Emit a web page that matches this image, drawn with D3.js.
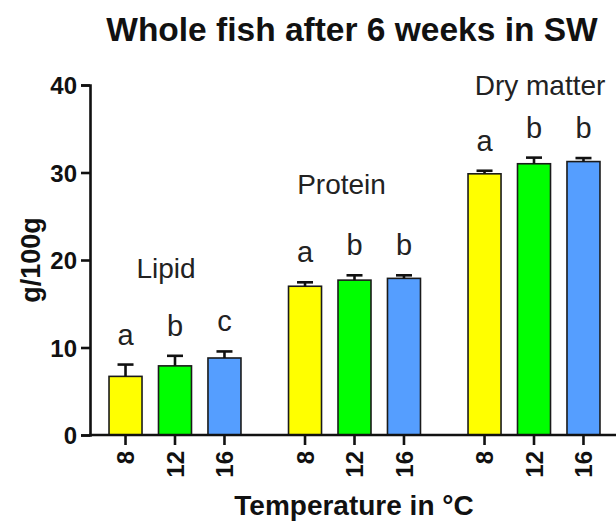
<!DOCTYPE html>
<meta charset="utf-8">
<style>
    body { margin: 0; background: #fff; }
    text { font-family: "Liberation Sans", Arial, sans-serif; fill: #111; }
    .bold { font-weight: bold; }
</style>

<svg width="616" height="523"></svg>

<script src="https://d3js.org/d3.v7.min.js"></script>

<script>
    // data
    var groups = ["Lipid", "Protein", "Dry matter"];
    var temps = ["8", "12", "16"];
    var colors = ["#ffff00", "#00ff00", "#559eff"];
    var lipid = [6.7, 7.9, 8.8];
    var lipidErr = [1.35, 1.15, 0.75];
    var protein = [17.0, 17.7, 17.9];
    var proteinErr = [0.45, 0.55, 0.35];
    var dryMatter = [29.85, 31.0, 31.25];
    var dryMatterErr = [0.35, 0.7, 0.4];
    var letters = [["a", "b", "c"], ["a", "b", "b"], ["a", "b", "b"]];
    var yTicks = [0, 10, 20, 30, 40];

    var svg = d3.select("svg");

    var means = [lipid, protein, dryMatter],
        errs = [lipidErr, proteinErr, dryMatterErr];

    var rows = [];
    groups.forEach(function (g, gi) {
        temps.forEach(function (t, ti) {
            rows.push({group: g, temp: t, ti: ti, value: means[gi][ti], err: errs[gi][ti], letter: letters[gi][ti]});
        });
    });

    var y = d3.scaleLinear().domain([0, 40]).range([435, 85]);

    var x0 = d3.scaleBand().domain(groups).range([90, 619])
            .paddingInner(0.173).paddingOuter(0.06);
    var x1 = d3.scaleBand().domain(temps).range([0, x0.bandwidth()])
            .paddingInner(0.333).paddingOuter(0.1667);

    function cx(d) { return x0(d.group) + x1(d.temp) + x1.bandwidth() / 2; }

    // title
    svg.append("text")
            .attr("class", "bold")
            .attr("x", 352).attr("y", 41)
            .attr("text-anchor", "middle")
            .style("font-size", "33.5px")
            .text("Whole fish after 6 weeks in SW");

    // bars
    svg.append("g").selectAll("rect")
            .data(rows)
            .enter().append("rect")
            .attr("x", function (d) { return x0(d.group) + x1(d.temp); })
            .attr("y", function (d) { return y(d.value); })
            .attr("width", x1.bandwidth())
            .attr("height", function (d) { return y(0) - y(d.value); })
            .attr("fill", function (d) { return colors[d.ti]; })
            .attr("stroke", "#1a1a1a")
            .attr("stroke-width", 1.6);

    // error bars (upper only)
    var eb = svg.append("g").attr("stroke", "#111").attr("stroke-width", 2.6);
    eb.selectAll("line.v")
            .data(rows)
            .enter().append("line")
            .attr("class", "v")
            .attr("x1", cx).attr("x2", cx)
            .attr("y1", function (d) { return y(d.value); })
            .attr("y2", function (d) { return y(d.value + d.err); });
    eb.selectAll("line.c")
            .data(rows)
            .enter().append("line")
            .attr("class", "c")
            .attr("x1", function (d) { return cx(d) - 8; })
            .attr("x2", function (d) { return cx(d) + 8; })
            .attr("y1", function (d) { return y(d.value + d.err); })
            .attr("y2", function (d) { return y(d.value + d.err); });

    // significance letters
    svg.append("g").selectAll("text")
            .data(rows)
            .enter().append("text")
            .attr("x", cx)
            .attr("y", function (d) { return y(d.value + d.err) - 20; })
            .attr("text-anchor", "middle")
            .style("font-size", "29px")
            .style("fill", "#222")
            .text(function (d) { return d.letter; });

    // group annotations
    var labelAt = {"Lipid": 17.9, "Protein": 27.5, "Dry matter": 38.9};
    var labelDx = {"Lipid": -9, "Protein": -13, "Dry matter": 6};
    svg.append("g").selectAll("text")
            .data(groups)
            .enter().append("text")
            .attr("x", function (g) { return x0(g) + x0.bandwidth() / 2 + labelDx[g]; })
            .attr("y", function (g) { return y(labelAt[g]); })
            .attr("text-anchor", "middle")
            .style("font-size", "28px")
            .style("fill", "#222")
            .text(function (g) { return g; });

    // y axis
    var yAxis = svg.append("g")
            .attr("transform", "translate(90,0)")
            .call(d3.axisLeft(y).tickValues(yTicks).tickSize(9).tickPadding(4));
    yAxis.select(".domain").attr("stroke", "#111").attr("stroke-width", 2.6);
    yAxis.selectAll(".tick line").attr("stroke", "#111").attr("stroke-width", 2.6);
    yAxis.selectAll(".tick text")
            .attr("class", "bold")
            .style("font-size", "24px")
            .attr("dy", "0.36em");

    // x axis: baseline and one tick per bar
    svg.append("line")
            .attr("x1", 89).attr("x2", 616)
            .attr("y1", y(0)).attr("y2", y(0))
            .attr("stroke", "#111").attr("stroke-width", 2.6);
    var xt = svg.append("g").selectAll("g")
            .data(rows)
            .enter().append("g")
            .attr("transform", function (d) { return "translate(" + cx(d) + "," + y(0) + ")"; });
    xt.append("line")
            .attr("y1", 0).attr("y2", 10)
            .attr("stroke", "#111").attr("stroke-width", 2.6);
    xt.append("text")
            .attr("class", "bold")
            .attr("transform", "rotate(-90)")
            .attr("x", -16).attr("y", 0)
            .attr("dy", "0.36em")
            .attr("text-anchor", "end")
            .style("font-size", "24px")
            .text(function (d) { return d.temp; });

    // axis titles
    svg.append("text")
            .attr("class", "bold")
            .attr("transform", "translate(40,260) rotate(-90)")
            .attr("text-anchor", "middle")
            .style("font-size", "27px")
            .text("g/100g");
    svg.append("text")
            .attr("class", "bold")
            .attr("x", 354).attr("y", 515)
            .attr("text-anchor", "middle")
            .style("font-size", "28px")
            .text("Temperature in \u00B0C");
</script>
